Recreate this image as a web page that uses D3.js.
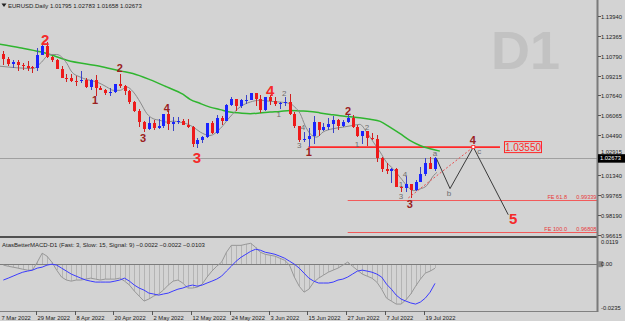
<!DOCTYPE html>
<html><head><meta charset="utf-8">
<script src="https://cdn.jsdelivr.net/npm/d3@7"></script>
<style>html,body{margin:0;padding:0;background:#d3d3d3;overflow:hidden}</style>
</head><body><svg id="c" width="625" height="321"></svg>
<script>
// ---------- DATA ----------
const startDate = new Date(2022, 2, 18);
const endDate = new Date(2022, 6, 22);
const open  = [1.1092,1.1050,1.1016,1.1031,1.1007,1.0997,1.0990,1.0985,1.1088,1.1160,1.1067,1.1045,1.0970,1.0903,1.0902,1.0878,1.0876,1.0887,1.0828,1.0889,1.0826,1.0810,1.0780,1.0789,1.0852,1.0836,1.0797,1.0714,1.0640,1.0556,1.0500,1.0544,1.0507,1.0523,1.0620,1.0541,1.0551,1.0560,1.0530,1.0514,1.0381,1.0410,1.0435,1.0544,1.0466,1.0583,1.0562,1.0690,1.0735,1.0677,1.0726,1.0732,1.0780,1.0733,1.0648,1.0749,1.0718,1.0696,1.0704,1.0716,1.0617,1.0519,1.0408,1.0418,1.0446,1.0550,1.0494,1.0513,1.0535,1.0567,1.0522,1.0553,1.0583,1.0518,1.0442,1.0484,1.0425,1.0423,1.0265,1.0182,1.0162,1.0183,1.0038,1.0034,1.0064,1.0018,1.0080,1.0142,1.0225,1.01795];
const high  = [1.1113,1.1068,1.1045,1.1045,1.1022,1.1036,1.0998,1.1137,1.1171,1.1185,1.1076,1.1050,1.0998,1.0938,1.0938,1.0919,1.0955,1.0903,1.0891,1.0925,1.0840,1.0817,1.0824,1.0856,1.0936,1.0849,1.0804,1.0722,1.0654,1.0565,1.0594,1.0572,1.0575,1.0620,1.0642,1.0593,1.0590,1.0580,1.0577,1.0525,1.0427,1.0444,1.0547,1.0564,1.0607,1.0602,1.0697,1.0749,1.0738,1.0739,1.0765,1.0787,1.0781,1.0764,1.0750,1.0765,1.0752,1.0712,1.0749,1.0773,1.0633,1.0526,1.0478,1.0506,1.0601,1.0550,1.0546,1.0583,1.0605,1.0580,1.0571,1.0614,1.0606,1.0528,1.0486,1.0486,1.0463,1.0450,1.0275,1.0229,1.0187,1.0188,1.0048,1.0122,1.0066,1.0097,1.0200,1.0272,1.0273,1.02783];
const low   = [1.1004,1.1001,1.0985,1.0962,1.0963,1.0961,1.0945,1.0955,1.1084,1.1065,1.1028,1.0970,1.0902,1.0874,1.0872,1.0836,1.0862,1.0822,1.0809,1.0757,1.0806,1.0771,1.0758,1.0781,1.0824,1.0767,1.0697,1.0636,1.0514,1.0471,1.0493,1.0491,1.0495,1.0505,1.0493,1.0483,1.0540,1.0527,1.0504,1.0354,1.0350,1.0390,1.0431,1.0461,1.0462,1.0532,1.0558,1.0677,1.0643,1.0661,1.0699,1.0728,1.0681,1.0627,1.0642,1.0686,1.0684,1.0654,1.0677,1.0612,1.0505,1.0398,1.0397,1.0359,1.0382,1.0445,1.0483,1.0489,1.0470,1.0487,1.0512,1.0543,1.0507,1.0436,1.0382,1.0366,1.0409,1.0235,1.0161,1.0144,1.0072,1.0036,0.9999,0.9998,0.9952,1.0007,1.0077,1.0124,1.0180,1.01658];
const close = [1.1050,1.1016,1.1031,1.1007,1.0997,1.0982,1.0982,1.1088,1.1160,1.1067,1.1045,1.0970,1.0903,1.0902,1.0878,1.0876,1.0887,1.0828,1.0889,1.0826,1.0810,1.0780,1.0789,1.0852,1.0836,1.0797,1.0714,1.0640,1.0556,1.0500,1.0544,1.0507,1.0523,1.0620,1.0541,1.0551,1.0560,1.0530,1.0514,1.0381,1.0410,1.0435,1.0544,1.0466,1.0583,1.0562,1.0690,1.0735,1.0677,1.0726,1.0732,1.0780,1.0733,1.0648,1.0749,1.0718,1.0696,1.0704,1.0716,1.0617,1.0519,1.0408,1.0418,1.0446,1.0550,1.0494,1.0513,1.0535,1.0567,1.0522,1.0553,1.0583,1.0518,1.0442,1.0484,1.0425,1.0423,1.0265,1.0182,1.0162,1.0183,1.0038,1.0034,1.0064,1.0018,1.0080,1.0142,1.0225,1.0180,1.02673];

// slow moving average (green), sampled: bar position / price
const maSlowIdx = [-0.7,3.4,7.6,9.6,13.1,19.9,24.1,26.7,30.2,33.7,37.0,38.5,40.5,42.6,44.7,46.7,48.8,50.9,52.9,55.0,57.0,59.1,61.2,63.2,65.3,67.4,69.4,71.5,73.5,75.6,77.7,79.7,81.8,83.8,85.9,88.0,90.0];
const maSlowVal = [1.1171,1.1143,1.1110,1.1089,1.1044,1.0996,1.0959,1.0938,1.0890,1.0832,1.0774,1.0734,1.0702,1.0672,1.0652,1.0633,1.0625,1.0620,1.0625,1.0633,1.0638,1.0646,1.0642,1.0638,1.0626,1.0614,1.0603,1.0595,1.0587,1.0575,1.0559,1.0513,1.0461,1.0408,1.0368,1.0342,1.0323];
// fast moving average (gray), sampled
const maFastIdx = [-0.7,6.2,7.6,9.6,11.0,13.1,14.1,15.8,17.2,19.3,21.3,22.7,24.1,25.4,26.8,28.2,29.6,30.9,32.3,33.7,35.0,36.4,37.8,39.2,40.6,42.6,44.7,46.7,48.8,50.9,52.9,55.0,57.0,59.1,60.1,61.2,62.2,63.2,64.6,65.9,68.0,70.0,72.1,73.5,74.9,76.3,77.7,79.0,80.4,81.8,83.2,84.5,85.9,87.3,88.7,89.4];
const maFastVal = [1.0996,1.0978,1.1018,1.1089,1.1089,1.1018,1.0951,1.0911,1.0890,1.0871,1.0832,1.0805,1.0805,1.0832,1.0792,1.0712,1.0620,1.0580,1.0567,1.0553,1.0561,1.0553,1.0540,1.0513,1.0474,1.0447,1.0501,1.0593,1.0673,1.0712,1.0726,1.0718,1.0712,1.0700,1.0672,1.0620,1.0527,1.0463,1.0434,1.0474,1.0501,1.0513,1.0527,1.0535,1.0474,1.0394,1.0315,1.0235,1.0182,1.0116,1.0050,1.0010,1.0023,1.0050,1.0129,1.0155];

// MACD panel values per bar
const macdMain = [-0.0005,-0.0011,-0.0016,-0.0021,-0.0027,-0.0032,-0.0032,0.0011,0.0059,0.0043,0.0011,-0.0032,-0.0069,-0.0085,-0.0091,-0.0085,-0.0085,-0.0080,-0.0075,-0.0080,-0.0085,-0.0080,-0.0080,-0.0080,-0.0075,-0.0091,-0.0112,-0.0144,-0.0171,-0.0198,-0.0187,-0.0171,-0.0160,-0.0139,-0.0112,-0.0091,-0.0085,-0.0101,-0.0128,-0.0128,-0.0123,-0.0107,-0.0069,-0.0037,-0.0011,0.0011,0.0064,0.0101,0.0101,0.0101,0.0107,0.0112,0.0091,0.0064,0.0053,0.0048,0.0043,0.0032,0.0021,-0.0005,-0.0069,-0.0118,-0.0150,-0.0134,-0.0096,-0.0075,-0.0059,-0.0043,-0.0032,-0.0021,-0.0005,0.0011,-0.0011,-0.0032,-0.0053,-0.0064,-0.0075,-0.0096,-0.0134,-0.0182,-0.0198,-0.0214,-0.0214,-0.0192,-0.0160,-0.0118,-0.0080,-0.0048,-0.0037,-0.0022];
const macdSignal = [-0.0085,-0.0075,-0.0064,-0.0053,-0.0043,-0.0037,-0.0032,-0.0021,-0.0016,-0.0005,0.0000,-0.0005,-0.0021,-0.0037,-0.0053,-0.0064,-0.0075,-0.0085,-0.0091,-0.0096,-0.0096,-0.0096,-0.0096,-0.0091,-0.0085,-0.0075,-0.0091,-0.0112,-0.0128,-0.0139,-0.0155,-0.0160,-0.0166,-0.0160,-0.0155,-0.0144,-0.0134,-0.0128,-0.0118,-0.0112,-0.0118,-0.0112,-0.0101,-0.0091,-0.0080,-0.0064,-0.0037,-0.0011,0.0016,0.0037,0.0053,0.0069,0.0080,0.0075,0.0064,0.0059,0.0053,0.0043,0.0032,0.0016,0.0000,-0.0021,-0.0048,-0.0075,-0.0091,-0.0101,-0.0101,-0.0101,-0.0096,-0.0085,-0.0080,-0.0069,-0.0053,-0.0037,-0.0032,-0.0037,-0.0043,-0.0053,-0.0069,-0.0107,-0.0134,-0.0166,-0.0187,-0.0198,-0.0208,-0.0214,-0.0203,-0.0182,-0.0150,-0.0103];

// axis ticks
const priceTicks = [1.13940,1.12365,1.10790,1.09215,1.07640,1.06065,1.04490,1.02915,1.01340,0.99765,0.98190,0.96615];
const macdTicks = [0.0119, 0, -0.0235];
const macdTickLabels = ["0.0119", "0.00", "-0.0235"];
const timeTickLabels = ["7 Mar 2022","29 Mar 2022","8 Apr 2022","20 Apr 2022","2 May 2022","12 May 2022","24 May 2022","3 Jun 2022","15 Jun 2022","27 Jun 2022","7 Jul 2022","19 Jul 2022"];

// wave labels: text, bar position, price, degree (0 big red, 1 dark red, 2 gray)
const waveText  = ["2","3","4","5", "2","1","3","4","1","2","3","4", "2","1","4","3","2","1","4","1","3","a","b","c"];
const waveIdx   = [8.6,39.9,55.0,105.1, 24.0,18.9,28.8,33.7,63.0,71.1,83.8,96.8, 57.9,56.8,61.8,61.0,75.0,72.9,82.8,82.0,82.0,89.0,91.9,98.1];
const wavePrice = [1.1203,1.0272,1.0805,0.9787, 1.0980,1.0726,1.0423,1.0662,1.0312,1.0638,0.9906,1.0408, 1.0781,1.0614,1.0511,1.0368,1.0511,1.0376,1.0137,1.0058,0.9970,1.0304,0.9994,1.0320];
const waveLevel = [0,0,0,0, 1,1,1,1,1,1,1,1, 2,2,2,2,2,2,2,2,2,2,2,2];

// projected path (a-b-c-5) and dashed 3->4 line
const projIdx = [89.3, 92.1, 96.9, 104.1];
const projPrice = [1.0264, 1.0026, 1.0355, 0.9819];
const dashIdx = [83.5, 96.9];
const dashPrice = [0.9952, 1.0355];

// levels
const targetLevel = 1.03550, targetFrom = 62.9, targetTo = 102.4;
const feLabels = ["FE 61.8", "FE 100.0"];
const feValues = [0.99339, 0.96808];
const feFrom = 71.0;
const lastPrice = close[close.length - 1];

// ---------- DRAW ----------
const W = 625, H = 321, R = 597;
const svg = d3.select("#c");
const dates = d3.timeDay.range(startDate, endDate).filter(d => d.getDay() % 6 !== 0);
const x = d3.scaleLinear().domain([0, 89]).range([3.35, 435]);
const y = d3.scaleLinear().domain([0.96615, 1.13940]).range([234.6, 16]);
const ym = d3.scaleLinear().domain([-0.0235, 0.0119]).range([308, 242]);
const FONT = "'Liberation Sans', Arial, sans-serif";

svg.append("rect").attr("width", W).attr("height", H).attr("fill", "#d3d3d3");
const defs = svg.append("defs");
defs.append("clipPath").attr("id", "cm").append("rect").attr("x", 0).attr("y", 0).attr("width", R).attr("height", 236);
defs.append("clipPath").attr("id", "cd").append("rect").attr("x", 0).attr("y", 238).attr("width", R).attr("height", 73);

// watermark
svg.append("text").attr("x", 491).attr("y", 69).text("D1")
  .attr("font-family", FONT).attr("font-weight", "bold").attr("font-size", 54).attr("fill", "#c2c2c2");

const gm = svg.append("g").attr("clip-path", "url(#cm)");

// current price line
gm.append("line").attr("x1", 0).attr("x2", R).attr("y1", Math.round(y(lastPrice)) + 0.5).attr("y2", Math.round(y(lastPrice)) + 0.5)
  .attr("stroke", "#a0a0a0").attr("stroke-width", 1);

// FE lines
feValues.forEach((v, k) => {
  const yy = Math.round(y(v)) + 0.5;
  gm.append("line").attr("x1", x(feFrom)).attr("x2", R).attr("y1", yy).attr("y2", yy).attr("stroke", "#f25a5a").attr("stroke-width", 1);
  gm.append("text").attr("x", 567).attr("y", yy - 2).attr("text-anchor", "end").text(feLabels[k])
    .attr("font-family", FONT).attr("font-size", 5.6).attr("fill", "#e83a3a");
  gm.append("text").attr("x", 596.5).attr("y", yy - 2).attr("text-anchor", "end").text(d3.format(".5f")(v))
    .attr("font-family", FONT).attr("font-size", 5.6).attr("fill", "#e83a3a");
});

// target level
const ty = y(targetLevel);
gm.append("line").attr("x1", x(targetFrom)).attr("x2", x(targetTo)).attr("y1", ty).attr("y2", ty).attr("stroke", "#ff2828").attr("stroke-width", 1.6);
gm.append("rect").attr("x", x(targetTo) + 4.5).attr("y", ty - 5.5).attr("width", 37).attr("height", 11)
  .attr("fill", "none").attr("stroke", "#ff2828").attr("stroke-width", 1);
gm.append("text").attr("x", x(targetTo) + 23).attr("y", ty + 3.6).attr("text-anchor", "middle").text(d3.format(".5f")(targetLevel))
  .attr("font-family", FONT).attr("font-size", 10).attr("fill", "#ff2828");

// moving averages
const line = d3.line().curve(d3.curveMonotoneX);
gm.append("path").attr("d", line(maSlowIdx.map((d, k) => [x(d), y(maSlowVal[k])])))
  .attr("fill", "none").attr("stroke", "#2fb52f").attr("stroke-width", 1.5);
gm.append("path").attr("d", line(maFastIdx.map((d, k) => [x(d), y(maFastVal[k])])))
  .attr("fill", "none").attr("stroke", "#8a8a8a").attr("stroke-width", 1);

// candles
const cg = gm.append("g").attr("shape-rendering", "crispEdges");
open.forEach((o, i) => {
  const c = close[i], up = c >= o;
  const col = up ? "#1a24ff" : "#ee1a1a";
  const cx = Math.round(x(i));
  cg.append("line").attr("x1", cx + 0.5).attr("x2", cx + 0.5).attr("y1", y(high[i])).attr("y2", y(low[i])).attr("stroke", up ? "#3a44c8" : "#d02020");
  const yt = y(Math.max(o, c)), yb = y(Math.min(o, c));
  cg.append("rect").attr("x", cx - 1).attr("y", yt).attr("width", 3).attr("height", Math.max(1, yb - yt)).attr("fill", col);
});

// dashed 3->4
gm.append("line").attr("x1", x(dashIdx[0])).attr("y1", y(dashPrice[0])).attr("x2", x(dashIdx[1])).attr("y2", y(dashPrice[1]))
  .attr("stroke", "#e85050").attr("stroke-width", 1).attr("stroke-dasharray", "2,2");
// projection path
gm.append("path").attr("d", d3.line()(projIdx.map((d, k) => [x(d), y(projPrice[k])])))
  .attr("fill", "none").attr("stroke", "#3a3a3a").attr("stroke-width", 1);
// point marker at wave 4 target
gm.append("rect").attr("x", x(projIdx[2]) - 1.5).attr("y", y(projPrice[2]) - 1.5).attr("width", 3).attr("height", 3)
  .attr("fill", "#fff").attr("stroke", "#ff2828").attr("stroke-width", 0.8);

// wave labels
const lvlStyle = [{s: 15, c: "#f52a2a", w: "bold"}, {s: 11, c: "#9a2020", w: "bold"}, {s: 8, c: "#6e6e6e", w: "normal"}];
waveText.forEach((t, k) => {
  const st = lvlStyle[waveLevel[k]];
  gm.append("text").attr("x", x(waveIdx[k])).attr("y", y(wavePrice[k])).attr("text-anchor", "middle").attr("dy", "0.36em")
    .text(t).attr("font-family", FONT).attr("font-size", st.s).attr("font-weight", st.w).attr("fill", st.c);
});

// header
svg.append("path").attr("d", "M1.5,3.5 L6.5,3.5 L4,7 Z").attr("fill", "#222");
const f5 = d3.format(".5f");
svg.append("text").attr("x", 8).attr("y", 7.5)
  .text(`EURUSD.Daily  ${f5(open[89])} ${f5(high[89])} ${f5(low[89])} ${f5(close[89])}`)
  .attr("font-family", FONT).attr("font-size", 6).attr("fill", "#222");

// panel separator
svg.append("rect").attr("x", 0).attr("y", 236).attr("width", R + 1).attr("height", 2).attr("fill", "#505050");

// MACD panel
const gd = svg.append("g").attr("clip-path", "url(#cd)");
const hg = gd.append("g").attr("shape-rendering", "crispEdges");
macdMain.forEach((v, i) => {
  const cx = Math.round(x(i)) + 0.5;
  hg.append("line").attr("x1", cx).attr("x2", cx).attr("y1", ym(0)).attr("y2", ym(v)).attr("stroke", "#b4b4b4").attr("stroke-width", 1);
});
gd.append("line").attr("x1", 0).attr("x2", R).attr("y1", Math.round(ym(0)) + 0.5).attr("y2", Math.round(ym(0)) + 0.5).attr("stroke", "#7c7c7c");
const ml = d3.line();
gd.append("path").attr("d", ml(macdMain.map((v, i) => [x(i), ym(v)]))).attr("fill", "none").attr("stroke", "#979797").attr("stroke-width", 1);
gd.append("path").attr("d", ml(macdSignal.map((v, i) => [x(i), ym(v)]))).attr("fill", "none").attr("stroke", "#3b3bff").attr("stroke-width", 1);
const f4 = d3.format(".4f");
svg.append("text").attr("x", 2).attr("y", 247)
  .text(`AtasBetterMACD-D1 (Fast: 3, Slow: 15, Signal: 9) ${f4(macdMain[89])} ${f4(macdMain[89])} ${f4(macdSignal[89])}`)
  .attr("font-family", FONT).attr("font-size", 6).attr("fill", "#222");

// bottom border + time axis
svg.append("line").attr("x1", 0).attr("x2", R).attr("y1", 311.5).attr("y2", 311.5).attr("stroke", "#808080");
const fmtD = d3.timeFormat("%-d %b %Y");
timeTickLabels.forEach(lbl => {
  const idx = dates.findIndex(d => fmtD(d) === lbl);
  const tx = idx >= 0 ? Math.round(x(idx) - 1.5) + 0.5 : 0.5;
  if (idx >= 0) svg.append("line").attr("x1", tx).attr("x2", tx).attr("y1", 311).attr("y2", 315).attr("stroke", "#555");
  svg.append("text").attr("x", tx + 1).attr("y", 319.5).text(lbl)
    .attr("font-family", FONT).attr("font-size", 5.8).attr("fill", "#222");
});

// right axis
svg.append("line").attr("x1", R + 0.5).attr("x2", R + 0.5).attr("y1", 0).attr("y2", 312).attr("stroke", "#7a7a7a").attr("stroke-width", 2);
const ly = y(lastPrice);
priceTicks.forEach(v => {
  const yy = Math.round(y(v)) + 0.5;
  svg.append("line").attr("x1", R + 1).attr("x2", R + 4).attr("y1", yy).attr("y2", yy).attr("stroke", "#555");
  // label that collides with the last-price tag sits just above it, as in the reference
  const ty2 = Math.abs(yy - ly) < 7 ? ly - 4.6 : yy + 2;
  svg.append("text").attr("x", 601).attr("y", ty2).text(f5(v))
    .attr("font-family", FONT).attr("font-size", 5.8).attr("fill", "#222");
});
macdTicks.forEach((v, k) => {
  const yy = ym(v);
  if (v === 0) svg.append("rect").attr("x", R + 1).attr("y", yy - 3).attr("width", 5).attr("height", 6).attr("fill", "#8a8a8a");
  svg.append("text").attr("x", 601).attr("y", yy + 2).text(macdTickLabels[k])
    .attr("font-family", FONT).attr("font-size", 5.8).attr("fill", "#222");
});
// last price tag
svg.append("rect").attr("x", R + 1).attr("y", ly - 4).attr("width", 27).attr("height", 8.5).attr("fill", "#000");
svg.append("text").attr("x", 600).attr("y", ly + 2.2).text(f5(lastPrice))
  .attr("font-family", FONT).attr("font-size", 5.8).attr("fill", "#fff");
</script>
</body></html>
